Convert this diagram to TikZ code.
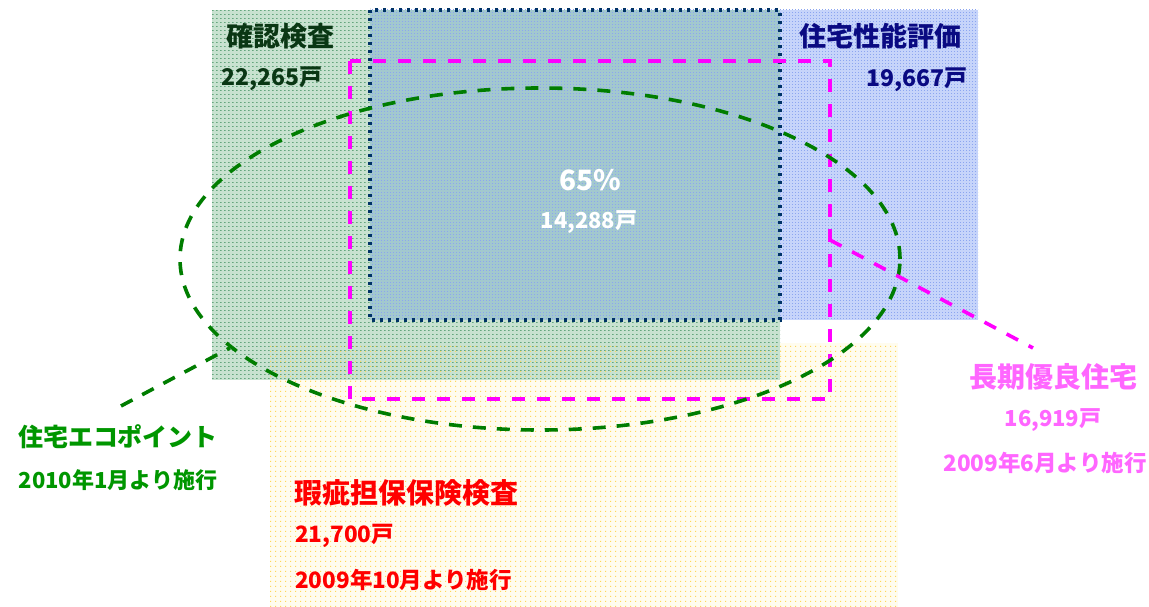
\documentclass[tikz,border=0pt]{standalone}
\usepackage{fontspec}
\setmainfont{Noto Sans CJK JP}
\usetikzlibrary{shapes.geometric,patterns.meta}
\definecolor{kakunin}{RGB}{10,55,20}
\definecolor{seino}{RGB}{10,10,130}
\definecolor{ecogreen}{RGB}{0,150,0}
\definecolor{ellgreen}{RGB}{0,125,0}
\definecolor{kashi}{RGB}{255,0,0}
\definecolor{choki}{RGB}{255,102,255}
\definecolor{mag}{RGB}{255,0,255}
\definecolor{navydot}{RGB}{0,51,102}
\definecolor{bgreen}{RGB}{200,226,208}
\definecolor{bblue}{RGB}{198,212,250}
\definecolor{boverlap}{RGB}{162,200,206}
\definecolor{byellow}{RGB}{255,252,238}
\definecolor{pgreen}{RGB}{100,165,125}
\definecolor{pblue}{RGB}{140,165,240}
\definecolor{pyellow}{RGB}{255,215,90}
\tikzdeclarepattern{
  name=greenrows, type=uncolored,
  bounding box={(0pt,0pt) and (4pt,4pt)},
  tile size={(4pt,4pt)},
  code={\fill (0pt,0pt) rectangle (2pt,1pt);}
}
\tikzdeclarepattern{
  name=bluedots, type=uncolored,
  bounding box={(0pt,0pt) and (3pt,3pt)},
  tile size={(3pt,3pt)},
  code={\fill (0pt,0pt) rectangle (1pt,1pt);}
}
\tikzdeclarepattern{
  name=yellowdots, type=uncolored,
  bounding box={(0pt,0pt) and (5pt,5pt)},
  tile size={(5pt,5pt)},
  code={\fill (0pt,0pt) rectangle (1.3pt,1.3pt);}
}
\tikzset{
  magdash/.style={draw=mag, line width=3.6pt, dash pattern=on 13pt off 12pt},
  greendash/.style={draw=ellgreen, line width=3.6pt, dash pattern=on 13pt off 11pt},
  navydots/.style={draw=navydot, line width=3.4pt, dash pattern=on 3.4pt off 4.6pt},
  lbl/.style={inner sep=0pt},
}
\begin{document}
\begin{tikzpicture}[x=1pt,y=-1pt]
\useasboundingbox (0,0) rectangle (1149,607);
\fill[white] (0,0) rectangle (1149,607);
% areas
\fill[byellow] (270,343) rectangle (898,607);
\fill[pattern=yellowdots, pattern color=pyellow] (270,343) rectangle (898,607);
\fill[bgreen] (212,10) rectangle (780,380);
\fill[pattern=greenrows, pattern color=pgreen] (212,10) rectangle (780,380);
\fill[pattern=yellowdots, pattern color=pyellow] (270,343) rectangle (780,380);
\fill[bblue] (780,10) rectangle (978,320);
\fill[boverlap] (370,10) rectangle (780,320);
\fill[pattern=bluedots, pattern color=pblue] (370,10) rectangle (978,320);
\draw[navydots] (370,10) rectangle (780,320);
\draw[magdash] (350,61) rectangle (830,399);
\node[ellipse, greendash, minimum width=720pt, minimum height=342pt, inner sep=0pt] (eco) at (540,259) {};
% connectors
\coordinate (magpt) at (830,240);
\coordinate (chokiend) at (1033,348);
\draw[magdash] (magpt) -- (chokiend);
\coordinate (ecoend) at (121,406);
\draw[greendash] (ecoend) -- (eco.196);
% labels
\node[lbl, text=kakunin, font=\bfseries\fontsize{27}{27}\selectfont] (kakuninT) at (280,36) {確認検査};
\node[lbl, text=kakunin, font=\bfseries\fontsize{23}{23}\selectfont] (kakuninN) at (272,79) {22,265戸};
\node[lbl, text=seino, font=\bfseries\fontsize{27}{27}\selectfont] (seinoT) at (880,36) {住宅性能評価};
\node[lbl, text=seino, font=\bfseries\fontsize{23}{23}\selectfont] (seinoN) at (917,80) {19,667戸};
\node[lbl, text=white, font=\bfseries\fontsize{28}{28}\selectfont] (pct) at (590,180) {65\%};
\node[lbl, text=white, font=\bfseries\fontsize{22}{22}\selectfont] (pctN) at (589,222) {14,288戸};
\node[lbl, text=ecogreen, font=\bfseries\fontsize{25}{25}\selectfont] (ecoT) at (118,437) {住宅エコポイント};
\node[lbl, text=ecogreen, font=\bfseries\fontsize{22}{22}\selectfont] (ecoD) at (118,480) {2010年1月より施行};
\node[lbl, text=kashi, font=\bfseries\fontsize{28}{28}\selectfont, anchor=west] (kashiT) at (294,493) {瑕疵担保保険検査};
\node[lbl, text=kashi, font=\bfseries\fontsize{22.5}{22.5}\selectfont, anchor=west] (kashiN) at (295,536) {21,700戸};
\node[lbl, text=kashi, font=\bfseries\fontsize{22.5}{22.5}\selectfont, anchor=west] (kashiD) at (295,580) {2009年10月より施行};
\node[lbl, text=choki, font=\bfseries\fontsize{28}{28}\selectfont] (chokiT) at (1053,377) {長期優良住宅};
\node[lbl, text=choki, font=\bfseries\fontsize{22}{22}\selectfont] (chokiN) at (1053,420) {16,919戸};
\node[lbl, text=choki, font=\bfseries\fontsize{22.5}{22.5}\selectfont] (chokiD) at (1045,463) {2009年6月より施行};
\end{tikzpicture}
\end{document}
